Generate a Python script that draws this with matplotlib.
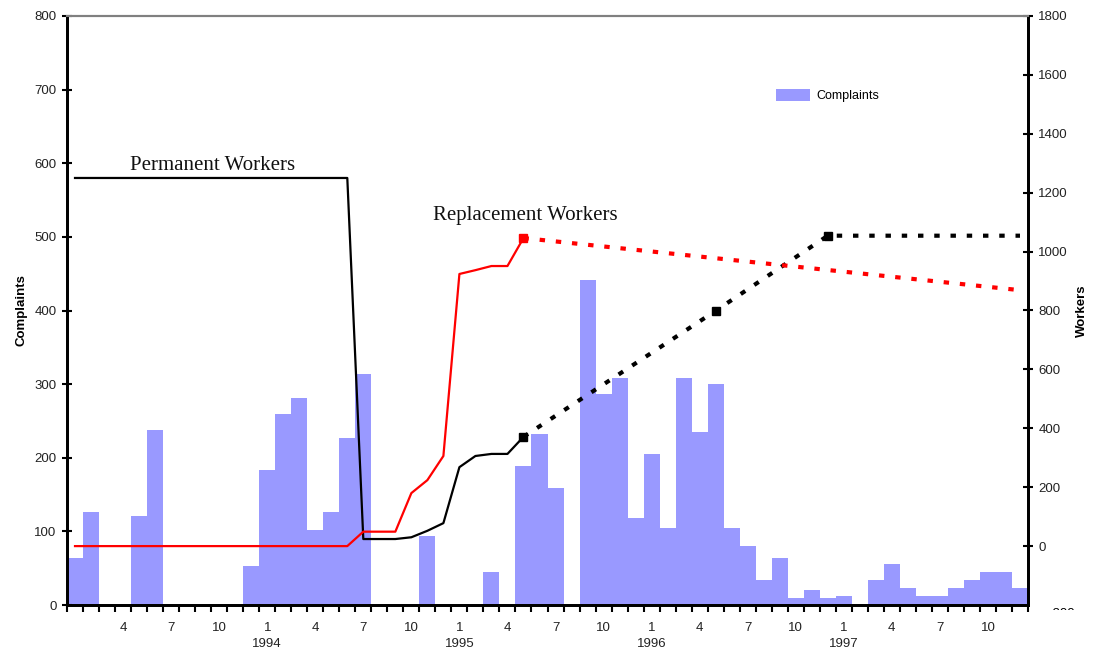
import matplotlib
matplotlib.use("Agg")
import matplotlib.pyplot as plt
import numpy as np
from matplotlib.transforms import Bbox

# ---------------- data ----------------
# monthly complaints, Jan 1993 .. Dec 1997
complaints = [64, 126, 0, 0, 121, 238, 0, 0, 0, 0, 0, 53,
              183, 259, 281, 102, 126, 227, 314, 0, 0, 0, 94, 0,
              0, 0, 45, 0, 189, 232, 159, 0, 441, 287, 308, 118,
              205, 105, 308, 235, 300, 105, 80, 34, 64, 10, 20, 9,
              12, 0, 34, 56, 23, 12, 12, 23, 34, 45, 45, 23]

# permanent workers (solid black) month index -> value
perm_idx = [0, 17, 18, 19, 20, 21, 22, 23, 24, 25, 26, 27, 28]
perm_val = [1250, 1250, 24, 24, 24, 30, 52, 78, 268, 306, 313, 313, 371]
# projected (dashed black)
perm_proj_idx = [28, 40, 47, 59]
perm_proj_val = [371, 799, 1054, 1054]
perm_marker_idx = [28, 40, 47]
perm_marker_val = [371, 799, 1054]

# replacement workers (solid red)
repl_idx = [0, 17, 18, 19, 20, 21, 22, 23, 24, 25, 26, 27, 28]
repl_val = [0, 0, 49, 49, 49, 180, 224, 306, 924, 937, 951, 951, 1046]
# projected (dashed red)
repl_proj_idx = [28, 59]
repl_proj_val = [1046, 869]

month_labels = ["4", "7", "10", "1"]
years = ["1994", "1995", "1996", "1997"]

# ---------------- figure ----------------
plt.rcParams['font.family'] = ['Liberation Sans', 'DejaVu Sans']
W, H = 1093, 652
fig = plt.figure(figsize=(W / 100, H / 100), dpi=100)
L, R, B, T = 67, 1028, 605, 16
ax = fig.add_axes([L / W, 1 - B / H, (R - L) / W, (B - T) / H])

n = len(complaints)
x = np.arange(n) + 0.5
ax.bar(x, complaints, width=1.0, color="#9999FF", linewidth=0, label="Complaints", zorder=1)
ax.set_xlim(0, n)
ax.set_ylim(0, 800)
ax.set_yticks(range(0, 801, 100))
ax.tick_params(axis='y', direction='inout', length=7, width=1.5, labelsize=9.5, pad=4,
               labelcolor='#222222')
ax.set_xticks(range(0, n + 1))
ax.set_xticklabels([])
ax.tick_params(axis='x', direction='out', length=5, width=1.5)
ax.set_ylabel("Complaints", fontsize=9.5, fontweight='bold', labelpad=5)

for s in ['left', 'bottom', 'right']:
    ax.spines[s].set_linewidth(2)
ax.spines['top'].set_color('#808080')
ax.spines['top'].set_linewidth(1.5)

# month labels and years
for i in range(n):
    m = i % 12 + 1
    if m in (4, 7, 10, 1) and i > 0:
        ax.text(i + 0.5, -0.039, str(m), transform=ax.get_xaxis_transform(),
                ha='center', va='center', fontsize=9.5, color='#222222')
        if m == 1:
            ax.text(i + 0.5, -0.0665, years[i // 12 - 1], transform=ax.get_xaxis_transform(),
                    ha='center', va='center', fontsize=9.5, color='#222222')

ax2 = ax.twinx()
ax2.set_ylim(-200, 1800)
ax2.set_yticks(range(0, 1801, 200))
ax2.tick_params(axis='y', direction='inout', length=7, width=1.5, labelsize=9.5, pad=4,
                labelcolor='#222222')
ax2.set_ylabel("Workers", fontsize=9.5, fontweight='bold', labelpad=6)
for s in ['left', 'bottom', 'right']:
    ax2.spines[s].set_linewidth(2)
ax2.spines['top'].set_color('#808080')
ax2.spines['top'].set_linewidth(1.5)

def xs(idx):
    return np.array(idx) + 0.5

ax2.plot(xs(perm_idx), perm_val, color='black', lw=1.6, zorder=3)
ax2.plot(xs(repl_idx), repl_val, color='#FF0000', lw=1.6, zorder=3)
ax2.plot(xs(perm_proj_idx), perm_proj_val, color='black', lw=3, dashes=(1.3, 2.6), zorder=3)
ax2.plot(xs(repl_proj_idx), repl_proj_val, color='#FF0000', lw=3, dashes=(1.3, 2.6), zorder=3)
ax2.plot(xs(perm_marker_idx), perm_marker_val, 's', color='black', ms=6, lw=0, zorder=4)
ax2.plot(xs([28]), [1046], 's', color='#FF0000', ms=6, lw=0, zorder=4)

ax2.text(3.93, 1294, "Permanent Workers", family=['Liberation Serif', 'DejaVu Serif'],
         fontsize=15, ha='left', va='center', color='#111111')
ax2.text(22.85, 1124, "Replacement Workers", family=['Liberation Serif', 'DejaVu Serif'],
         fontsize=15, ha='left', va='center', color='#111111')

# truncated "-200" label at bottom right
t = fig.text(1048 / W, 1 - 614 / H, "-200", fontsize=9.5, ha='left', va='center')
t.set_clip_box(Bbox([[0, H - 610], [W, H]]))
t.set_clip_on(True)

leg = ax.legend(loc='upper left', bbox_to_anchor=(776 / W, 1 - 89 / H),
                bbox_transform=fig.transFigure, frameon=False, fontsize=9,
                handlelength=2.7, handleheight=1.1, handletextpad=0.55, borderpad=0,
                borderaxespad=0)

fig.savefig("out.png", dpi=100)
